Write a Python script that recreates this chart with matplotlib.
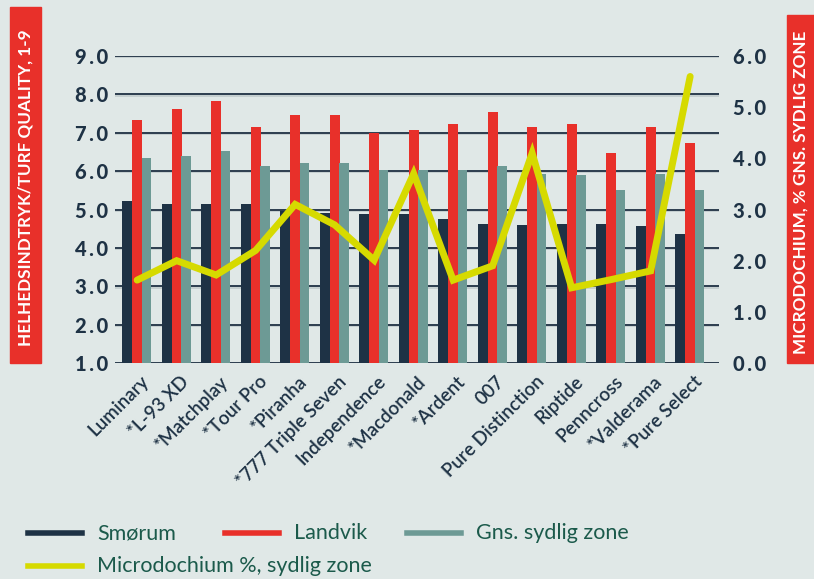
import matplotlib
matplotlib.use("Agg")
import matplotlib.pyplot as plt
import numpy as np
from matplotlib.patches import Rectangle
from matplotlib.lines import Line2D

categories = ["Luminary", "*L-93 XD", "*Matchplay", "*Tour Pro", "*Piranha",
              "*777 Triple Seven", "Independence", "*Macdonald", "*Ardent", "007",
              "Pure Distinction", "Riptide", "Penncross", "*Valderama", "*Pure Select"]
smorum = [5.23, 5.15, 5.15, 5.15, 4.95, 4.92, 4.87, 4.87, 4.74, 4.63, 4.60, 4.63, 4.63, 4.58, 4.35]
landvik = [7.32, 7.63, 7.84, 7.16, 7.45, 7.45, 7.00, 7.08, 7.24, 7.55, 7.16, 7.24, 6.46, 7.16, 6.72]
gns = [6.33, 6.40, 6.53, 6.14, 6.22, 6.20, 6.04, 6.04, 6.04, 6.14, 5.93, 5.90, 5.52, 5.93, 5.52]
micro = [1.62, 2.00, 1.72, 2.20, 3.10, 2.70, 2.01, 3.70, 1.62, 1.90, 4.10, 1.47, 1.63, 1.80, 5.60]
left_ticks = [1.0, 2.0, 3.0, 4.0, 5.0, 6.0, 7.0, 8.0, 9.0]
right_ticks = [0.0, 1.0, 2.0, 3.0, 4.0, 5.0, 6.0]

BG = "#e0e8e7"
NAVY = "#1e3245"
RED = "#e8302a"
TEAL = "#6d9a95"
YEL = "#d6da00"
LEG = "#1b5a4b"
FAM = ["Lato", "DejaVu Sans"]


def spaced(v):
    return "\u2009".join(f"{v:.1f}")


W, H = 814, 579
fig = plt.figure(figsize=(W/100, H/100), dpi=100, facecolor=BG)
ax = fig.add_axes([115/W, 1-363/H, (719-115)/W, (363-56)/H])
ax.set_facecolor(BG)
ax2 = ax.twinx()

x = np.arange(len(categories))
bw = 0.25
for yv in left_ticks:
    ax.axhline(yv - 0.035, color="#c3cdce", lw=1.3, zorder=0.5)
    ax.axhline(yv, color="#2c3d4e", lw=1.4, zorder=1)

ax.bar(x - bw, smorum, bw, bottom=0, color=NAVY, zorder=2)
ax.bar(x, landvik, bw, bottom=0, color=RED, zorder=2)
ax.bar(x + bw * 0.95, gns, bw, bottom=0, color=TEAL, zorder=2)

ax.set_xlim(-0.56, 14.73)
ax.set_ylim(1, 9)
ax2.set_ylim(0, 6)
ax2.plot(x, micro, color=YEL, lw=5, solid_capstyle="round", solid_joinstyle="miter", zorder=5)
ax.set_zorder(1)
ax2.set_zorder(2)
ax2.patch.set_visible(False)

for a in (ax, ax2):
    for s in a.spines.values():
        s.set_visible(False)

ax.set_yticks(left_ticks)
ax.set_yticklabels([spaced(v) for v in left_ticks], family=FAM, fontweight="black",
                   fontsize=14.5, color=NAVY)
ax2.set_yticks(right_ticks)
ax2.set_yticklabels([spaced(v) for v in right_ticks], family=FAM, fontweight="black",
                    fontsize=14.5, color=NAVY)
ax.tick_params(axis="y", length=0, pad=5)
ax2.tick_params(axis="y", length=0, pad=10)

ax.set_xticks(x + 0.08)
ax.set_xticklabels(categories, rotation=45, ha="right", rotation_mode="anchor",
                   family=FAM, fontweight="semibold", fontsize=13.5, color=NAVY)
ax.tick_params(axis="x", length=0, pad=7)

# side label boxes
fig.patches.append(Rectangle((10/W, 1-363/H), 31/W, 356/H, transform=fig.transFigure,
                             color=RED, zorder=0))
fig.text(26/W, 1-(363+7)/2/H - 0.005, "HELHEDSINDTRYK/TURF QUALITY, 1-9", rotation=90,
         ha="center", va="center", color="white", family=FAM, fontweight="bold",
         fontsize=12.3)
fig.patches.append(Rectangle((787/W, 1-363/H), 27/W, 348/H, transform=fig.transFigure,
                             color=RED, zorder=0))
fig.text(801/W, 1-(363+15)/2/H - 0.005, "MICRODOCHIUM, % GNS. SYDLIG ZONE", rotation=90,
         ha="center", va="center", color="white", family=FAM, fontweight="bold",
         fontsize=12.3)

# legend
entries = [(28, 533, NAVY, "Smørum"), (225, 533, RED, "Landvik"),
           (407, 533, TEAL, "Gns. sydlig zone"), (28, 566, YEL, "Microdochium %, sydlig zone")]
for lx, ly, c, lab in entries:
    fig.add_artist(Line2D([lx/W, (lx+54)/W], [1-ly/H, 1-ly/H], color=c, lw=4,
                          transform=fig.transFigure))
    fig.text((lx+69)/W, 1-ly/H, lab, ha="left", va="center", color=LEG,
             family=FAM, fontsize=15.5)

fig.savefig("out.png", dpi=100, facecolor=BG)
